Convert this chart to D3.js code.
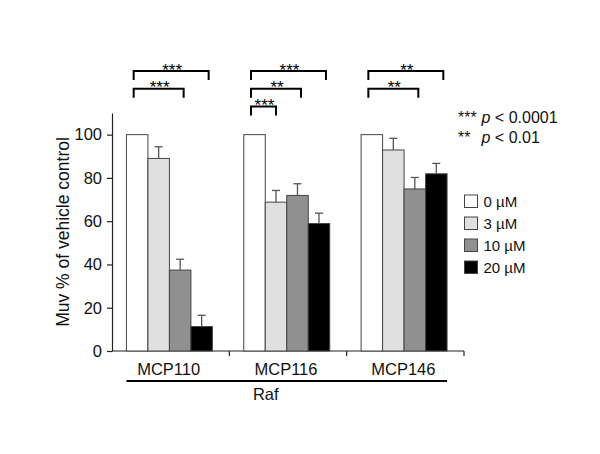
<!DOCTYPE html>
<html>
<head>
<meta charset="utf-8">
<script src="https://cdn.jsdelivr.net/npm/d3@7"></script>
<style>
  body { margin: 0; background: #fff; }
  svg { display: block; font-family: "Liberation Sans", Arial, sans-serif; }
</style>
</head>
<body>
<svg id="chart" width="600" height="454"></svg>
<script>
// data
const groups = ["MCP110", "MCP116", "MCP146"];
const doses = ["0 µM", "3 µM", "10 µM", "20 µM"];
const doseColors = ["#ffffff", "#e0e0e0", "#909090", "#000000"];
const means = [
    [100, 89, 37.4, 11.3],
    [100, 68.8, 71.9, 58.9],
    [100, 92.9, 74.9, 81.9]
];
const errs = [
    [0, 5.4, 5, 5.2],
    [0, 5.4, 5.4, 4.8],
    [0, 5.4, 5.3, 4.8]
];
// significance brackets: group index, from bar, to bar, row, stars
const brackets = [
    {g: 0, from: 0, to: 3, level: 0, label: "***"},
    {g: 0, from: 0, to: 2, level: 1, label: "***"},
    {g: 1, from: 0, to: 3, level: 0, label: "***"},
    {g: 1, from: 0, to: 2, level: 1, label: "**"},
    {g: 1, from: 0, to: 1, level: 2, label: "***"},
    {g: 2, from: 0, to: 3, level: 0, label: "**"},
    {g: 2, from: 0, to: 2, level: 1, label: "**"}
];
const yTicks = [0, 20, 40, 60, 80, 100];
const pLegend = [
    {stars: "***", text: "< 0.0001"},
    {stars: "**", text: "< 0.01"}
];

const svg = d3.select("#chart");
const margin = { top: 113, left: 112, right: 136, bottom: 103 };
const width = +svg.attr("width");
const height = +svg.attr("height");
const innerW = width - margin.left - margin.right;
const innerH = height - margin.top - margin.bottom;
const g = svg.append("g")
    .attr("transform", "translate(" + margin.left + "," + margin.top + ")");

const yScale = d3.scaleLinear().domain([0, 110]).range([innerH, 0]);
const xScale = d3.scaleBand().domain(groups).range([0, innerW]).padding(0);
const xBar = d3.scaleBand().domain(d3.range(doses.length))
    .range([0, xScale.bandwidth()]).paddingInner(0).paddingOuter(0.73).align(0.46);

// y axis
const yAxis = d3.axisLeft(yScale).tickValues(yTicks).tickSize(5).tickSizeOuter(0).tickPadding(5);
const yg = g.append("g").call(yAxis);
yg.select(".domain").attr("stroke", "#222").attr("stroke-width", 1.2);
yg.selectAll(".tick line").attr("stroke", "#222").attr("stroke-width", 1.2);
yg.selectAll(".tick text").attr("font-size", "16.5px").attr("fill", "#111")
    .attr("font-family", "Liberation Sans, Arial, sans-serif");

g.append("text")
    .attr("transform", "translate(" + (-43) + "," + (innerH / 2 + 0) + ") rotate(-90)")
    .attr("text-anchor", "middle")
    .attr("font-size", "17.5px")
    .attr("fill", "#111")
    .text("Muv % of vehicle control");

// x axis line with ticks at group boundaries
g.append("line")
    .attr("x1", 0).attr("x2", innerW)
    .attr("y1", yScale(0)).attr("y2", yScale(0))
    .attr("stroke", "#222").attr("stroke-width", 1.2);
g.selectAll(".xtick").data(groups).enter().append("line")
    .attr("class", "xtick")
    .attr("x1", d => xScale(d) + xScale.bandwidth())
    .attr("x2", d => xScale(d) + xScale.bandwidth())
    .attr("y1", yScale(0)).attr("y2", yScale(0) + 5)
    .attr("stroke", "#222").attr("stroke-width", 1.2);

g.selectAll(".xlabel").data(groups).enter().append("text")
    .attr("class", "xlabel")
    .attr("x", d => xScale(d) + xScale.bandwidth() / 2 - 2)
    .attr("y", yScale(0) + 24)
    .attr("text-anchor", "middle")
    .attr("font-size", "16.5px")
    .attr("fill", "#111")
    .text(d => d);

// Raf bar under the group labels
const rafX1 = xScale(groups[0]) + xBar(0);
const rafX2 = xScale(groups[groups.length - 1]) + xBar(doses.length - 1) + xBar.bandwidth();
g.append("line")
    .attr("x1", rafX1).attr("x2", rafX2)
    .attr("y1", yScale(0) + 30).attr("y2", yScale(0) + 30)
    .attr("stroke", "#000").attr("stroke-width", 2);
g.append("text")
    .attr("x", (rafX1 + rafX2) / 2 - 21)
    .attr("y", yScale(0) + 49)
    .attr("text-anchor", "middle")
    .attr("font-size", "16.5px")
    .attr("fill", "#111")
    .text("Raf");

// bars
const barData = [];
groups.forEach((grp, gi) => {
    means[gi].forEach((v, di) => {
        barData.push({grp: grp, gi: gi, di: di, value: v, err: errs[gi][di]});
    });
});

const barX = d => xScale(d.grp) + xBar(d.di);
g.selectAll(".bar").data(barData).enter().append("rect")
    .attr("class", "bar")
    .attr("x", barX)
    .attr("y", d => yScale(d.value))
    .attr("width", xBar.bandwidth())
    .attr("height", d => yScale(0) - yScale(d.value))
    .attr("fill", d => doseColors[d.di])
    .attr("stroke", "#444")
    .attr("stroke-width", 1);

// error bars (upper only)
const errData = barData.filter(d => d.err > 0);
const cx = d => barX(d) + xBar.bandwidth() / 2;
g.selectAll(".errv").data(errData).enter().append("line")
    .attr("x1", cx).attr("x2", cx)
    .attr("y1", d => yScale(d.value)).attr("y2", d => yScale(d.value + d.err))
    .attr("stroke", "#555").attr("stroke-width", 1.3);
g.selectAll(".errc").data(errData).enter().append("line")
    .attr("x1", d => cx(d) - 4).attr("x2", d => cx(d) + 4)
    .attr("y1", d => yScale(d.value + d.err)).attr("y2", d => yScale(d.value + d.err))
    .attr("stroke", "#555").attr("stroke-width", 1.3);

// significance brackets
const levelY = lv => -42 + lv * 17.8;
const barCenter = (gi, di) => xScale(groups[gi]) + xBar(di) + xBar.bandwidth() / 2;
const bg = g.selectAll(".bracket").data(brackets).enter().append("g").attr("class", "bracket");
bg.append("path")
    .attr("d", d => {
        const x1 = barCenter(d.g, d.from) - 3.5;
        const x2 = barCenter(d.g, d.to) + (d.to - 1) * 3.5;
        const y = levelY(d.level);
        return "M" + x1 + "," + (y + 9) + "V" + y + "H" + x2 + "V" + (y + 9);
    })
    .attr("fill", "none").attr("stroke", "#000").attr("stroke-width", 2);
bg.append("text")
    .attr("x", d => (barCenter(d.g, d.from) - 3.5 + barCenter(d.g, d.to) + (d.to - 1) * 3.5) / 2 + 1)
    .attr("y", d => levelY(d.level) + 4.5)
    .attr("text-anchor", "middle")
    .attr("font-size", "17px")
    .attr("fill", "#000")
    .text(d => d.label);

// p-value key
const pg = svg.append("g");
pLegend.forEach((p, i) => {
    const y = 122.7 + i * 20.7;
    pg.append("text").attr("x", 458).attr("y", y)
        .attr("font-size", "16px").attr("fill", "#111").text(p.stars);
    const t = pg.append("text").attr("x", 481.5).attr("y", y)
        .attr("font-size", "16px").attr("fill", "#111");
    t.append("tspan").attr("font-style", "italic").text("p");
    t.append("tspan").text(" " + p.text);
});

// dose legend
const lg = svg.append("g").attr("transform", "translate(464.5,195)");
const items = lg.selectAll(".item").data(doses).enter().append("g")
    .attr("transform", (d, i) => "translate(0," + (i * 22) + ")");
items.append("rect")
    .attr("width", 13).attr("height", 12.5)
    .attr("fill", (d, i) => doseColors[i])
    .attr("stroke", "#444").attr("stroke-width", 1);
items.append("text")
    .attr("x", 19).attr("y", 12.3)
    .attr("font-size", "15px").attr("fill", "#111")
    .text(d => d);
</script>
</body>
</html>
